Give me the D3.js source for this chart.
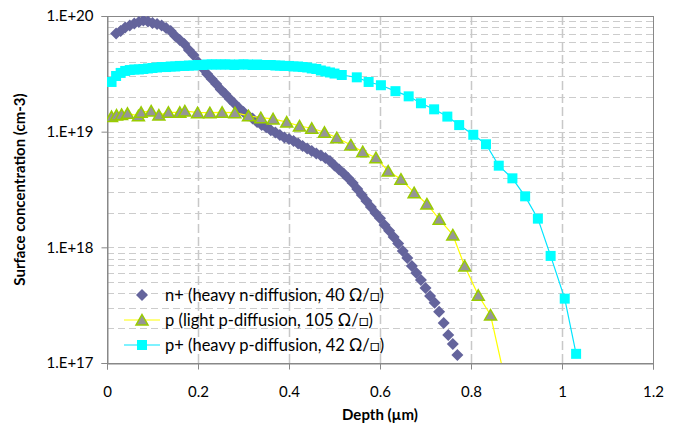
<!DOCTYPE html>
<html lang="en">
<head>
  <meta charset="UTF-8">
  <title>Surface concentration vs depth</title>
  <script src="https://cdn.jsdelivr.net/npm/d3@7"></script>
  <style>
    body { margin: 0; background: #fff; }
    text { font-family: Lato, "DejaVu Sans", sans-serif; fill: #000; }
    .axis-title { font-size: 15px; font-weight: bold; }
    .legend-label { font-size: 16.5px; }
  </style>
</head>
<body>
  <div id="chart"></div>

  <script>
    // n+ (heavy n-diffusion) - dense profile, markers only
    const nDepth = [0.02, 0.03, 0.04, 0.05, 0.06, 0.07, 0.08, 0.09, 0.10, 0.11,
      0.12, 0.13, 0.14, 0.15, 0.16, 0.17, 0.18, 0.19, 0.20, 0.21,
      0.22, 0.23, 0.24, 0.25, 0.26, 0.27, 0.28, 0.29, 0.30, 0.31,
      0.32, 0.33, 0.34, 0.35, 0.36, 0.37, 0.38, 0.39, 0.40, 0.41,
      0.42, 0.43, 0.44, 0.45, 0.46, 0.47, 0.48, 0.49, 0.50, 0.51,
      0.52, 0.53, 0.54, 0.55, 0.56, 0.57, 0.58, 0.59, 0.60, 0.61,
      0.62, 0.63, 0.64, 0.65, 0.66, 0.67, 0.68, 0.69, 0.70, 0.71,
      0.72, 0.73, 0.74, 0.75, 0.76, 0.77];
    const nConc = [7.06e19, 7.42e19, 7.95e19, 8.28e19, 8.61e19, 8.87e19, 9.14e19, 8.96e19, 8.70e19, 8.53e19,
      8.28e19, 7.87e19, 7.42e19, 6.72e19, 6.20e19, 5.73e19, 5.08e19, 4.60e19, 4.00e19, 3.55e19,
      3.15e19, 2.85e19, 2.58e19, 2.31e19, 2.12e19, 1.92e19, 1.75e19, 1.60e19, 1.48e19, 1.38e19,
      1.30e19, 1.21e19, 1.14e19, 1.09e19, 1.03e19, 9.85e18, 9.36e18, 8.91e18, 8.65e18, 8.31e18,
      7.91e18, 7.52e18, 7.16e18, 6.81e18, 6.48e18, 6.22e18, 5.93e18, 5.58e18, 5.10e18, 4.71e18,
      4.35e18, 3.98e18, 3.60e18, 3.20e18, 2.84e18, 2.52e18, 2.23e18, 1.98e18, 1.78e18, 1.56e18,
      1.39e18, 1.23e18, 1.08e18, 9.31e17, 8.10e17, 6.90e17, 6.01e17, 5.23e17, 4.46e17, 3.80e17,
      3.31e17, 2.77e17, 2.22e17, 1.75e17, 1.46e17, 1.17e17];

    // p (light p-diffusion)
    const pDepth = [0.010, 0.021, 0.032, 0.045, 0.069, 0.075, 0.097, 0.114, 0.135, 0.160,
      0.171, 0.199, 0.226, 0.253, 0.281, 0.311, 0.338, 0.365, 0.395, 0.423,
      0.450, 0.478, 0.505, 0.536, 0.562, 0.591, 0.618, 0.646, 0.675, 0.703,
      0.730, 0.760, 0.786, 0.816, 0.843, 0.872];
    const pConc = [1.35e19, 1.39e19, 1.41e19, 1.44e19, 1.37e19, 1.47e19, 1.51e19, 1.39e19, 1.47e19, 1.47e19,
      1.51e19, 1.46e19, 1.46e19, 1.47e19, 1.46e19, 1.37e19, 1.32e19, 1.29e19, 1.21e19, 1.12e19,
      1.07e19, 9.88e18, 8.87e18, 7.67e18, 6.71e18, 5.96e18, 4.57e18, 3.88e18, 2.97e18, 2.37e18,
      1.75e18, 1.28e18, 6.9e17, 3.85e17, 2.6e17, 8e16];

    // p+ (heavy p-diffusion)
    const ppDepth = [0.01, 0.02, 0.03, 0.04, 0.05, 0.06, 0.07, 0.08, 0.09, 0.10,
      0.11, 0.12, 0.13, 0.14, 0.15, 0.16, 0.17, 0.18, 0.19, 0.20,
      0.21, 0.22, 0.23, 0.24, 0.25, 0.26, 0.27, 0.28, 0.29, 0.30,
      0.31, 0.32, 0.33, 0.34, 0.35, 0.36, 0.37, 0.38, 0.39, 0.40,
      0.41, 0.42, 0.43, 0.44, 0.45, 0.46, 0.47, 0.48, 0.49, 0.50,
      0.516, 0.549, 0.575, 0.602, 0.634, 0.663, 0.690, 0.719, 0.748, 0.774,
      0.805, 0.833, 0.861, 0.891, 0.919, 0.947, 0.975, 1.006, 1.031];
    const ppConc = [2.69e19, 3.03e19, 3.22e19, 3.35e19, 3.41e19, 3.45e19, 3.45e19, 3.48e19, 3.52e19, 3.55e19,
      3.59e19, 3.62e19, 3.62e19, 3.66e19, 3.66e19, 3.70e19, 3.70e19, 3.73e19, 3.73e19, 3.77e19,
      3.77e19, 3.81e19, 3.81e19, 3.81e19, 3.81e19, 3.81e19, 3.81e19, 3.77e19, 3.81e19, 3.81e19,
      3.81e19, 3.77e19, 3.81e19, 3.77e19, 3.77e19, 3.77e19, 3.73e19, 3.73e19, 3.70e19, 3.70e19,
      3.66e19, 3.66e19, 3.62e19, 3.59e19, 3.52e19, 3.48e19, 3.38e19, 3.31e19, 3.25e19, 3.18e19,
      3.09e19, 2.95e19, 2.69e19, 2.52e19, 2.24e19, 2.02e19, 1.76e19, 1.56e19, 1.35e19, 1.14e19,
      9.4e18, 7.78e18, 5.08e18, 3.95e18, 2.76e18, 1.77e18, 8.43e17, 3.6e17, 1.2e17];

    const xTicks = [0, 0.2, 0.4, 0.6, 0.8, 1, 1.2];
    const xTickLabels = ['0', '0.2', '0.4', '0.6', '0.8', '1', '1.2'];
    const yTicks = [1e17, 1e18, 1e19, 1e20];
    const yTickLabels = ['1.E+17', '1.E+18', '1.E+19', '1.E+20'];

    const legendLabels = [
      'n+ (heavy n-diffusion, 40 \u03A9/\u25A1)',
      'p (light p-diffusion, 105 \u03A9/\u25A1)',
      'p+ (heavy p-diffusion, 42 \u03A9/\u25A1)'
    ];

    const width = 675, height = 424;
    const margin = { top: 16, right: 22, bottom: 61, left: 107 };
    const innerW = width - margin.left - margin.right;
    const innerH = height - margin.top - margin.bottom;

    const svg = d3.select('#chart')
      .append('svg')
        .attr('width', width)
        .attr('height', height);

    svg.append('rect')
      .attr('width', width)
      .attr('height', height)
      .attr('fill', '#fff');

    const x = d3.scaleLinear().domain([0, 1.2]).range([0, innerW]);
    const y = d3.scaleLog().domain([1e17, 1e20]).range([innerH, 0]);

    const g = svg.append('g')
      .attr('transform', `translate(${margin.left},${margin.top})`);

    // horizontal gridlines (major + minor log ticks)
    g.append('g')
      .selectAll('line')
      .data(y.ticks().filter(v => v > 1e17 && v < 1e20))
      .enter()
      .append('line')
        .attr('x1', 0)
        .attr('x2', innerW)
        .attr('y1', d => Math.round(y(d)) + 0.5)
        .attr('y2', d => Math.round(y(d)) + 0.5)
        .style('stroke', '#cccccc')
        .style('stroke-width', 1)
        .style('stroke-dasharray', '7,4');

    // vertical gridlines
    g.append('g')
      .selectAll('line')
      .data(xTicks.slice(1, -1))
      .enter()
      .append('line')
        .attr('x1', d => Math.round(x(d)) + 0.5)
        .attr('x2', d => Math.round(x(d)) + 0.5)
        .attr('y1', 0)
        .attr('y2', innerH)
        .style('stroke', '#c8c8c8')
        .style('stroke-width', 1.5)
        .style('stroke-dasharray', '9,4');

    // plot frame
    g.append('rect')
      .attr('x', 0.5)
      .attr('y', 0.5)
      .attr('width', innerW)
      .attr('height', innerH)
      .attr('fill', 'none')
      .style('stroke', '#888')
      .style('stroke-width', 1);

    // axes
    const xAxis = d3.axisBottom(x)
      .tickValues(xTicks)
      .tickSize(6)
      .tickPadding(17)
      .tickFormat((d, i) => xTickLabels[i]);
    const xg = g.append('g')
      .attr('transform', `translate(0,${innerH + 0.5})`)
      .call(xAxis);

    const yAxis = d3.axisLeft(y)
      .tickValues(yTicks)
      .tickSize(6)
      .tickPadding(8)
      .tickFormat((d, i) => yTickLabels[i]);
    const yg = g.append('g')
      .attr('transform', 'translate(0.5,0)')
      .call(yAxis);

    [xg, yg].forEach(ax => {
      ax.select('.domain').style('stroke', '#888');
      ax.selectAll('.tick line').style('stroke', '#888');
      ax.selectAll('.tick text')
        .style('font-family', 'Lato, "DejaVu Sans", sans-serif')
        .style('font-size', '15px')
        .style('fill', '#000');
    });

    // axis titles
    svg.append('text')
      .attr('class', 'axis-title')
      .attr('x', margin.left + innerW / 2)
      .attr('y', 420)
      .attr('text-anchor', 'middle')
      .text('Depth (\u00B5m)');

    svg.append('text')
      .attr('class', 'axis-title')
      .attr('transform', `translate(25,${margin.top + innerH / 2}) rotate(-90)`)
      .attr('text-anchor', 'middle')
      .text('Surface concentration (cm-3)');

    // clip region for data
    svg.append('clipPath')
      .attr('id', 'plot-clip')
      .append('rect')
        .attr('width', innerW)
        .attr('height', innerH);

    const data = g.append('g').attr('clip-path', 'url(#plot-clip)');

    const diamond = 'M0,-6L6,0L0,6L-6,0Z';
    const triangle = 'M0,-5.5L6,5L-6,5Z';
    const square = 'M-5,-5H5V5H-5Z';

    const nPts = nDepth.map((d, i) => [d, nConc[i]]);
    const pPts = pDepth.map((d, i) => [d, pConc[i]]);
    const ppPts = ppDepth.map((d, i) => [d, ppConc[i]]);

    const line = d3.line().x(d => x(d[0])).y(d => y(d[1]));

    // n+ markers
    data.append('g')
      .selectAll('path')
      .data(nPts)
      .enter()
      .append('path')
        .attr('d', diamond)
        .attr('transform', d => `translate(${x(d[0])},${y(d[1])})`)
        .style('fill', '#64649c');

    // p line + triangles
    data.append('path')
      .datum(pPts)
      .attr('d', line)
      .style('fill', 'none')
      .style('stroke', '#ffff00')
      .style('stroke-width', 1.2);

    data.append('g')
      .selectAll('path')
      .data(pPts)
      .enter()
      .append('path')
        .attr('d', triangle)
        .attr('transform', d => `translate(${x(d[0])},${y(d[1])})`)
        .style('fill', '#969696')
        .style('stroke', '#99cc00')
        .style('stroke-width', 1.5);

    // p+ line + squares
    data.append('path')
      .datum(ppPts)
      .attr('d', line)
      .style('fill', 'none')
      .style('stroke', '#00e5ff')
      .style('stroke-width', 1.2);

    data.append('g')
      .selectAll('path')
      .data(ppPts)
      .enter()
      .append('path')
        .attr('d', square)
        .attr('transform', d => `translate(${x(d[0])},${y(d[1])})`)
        .style('fill', '#00ffff');

    // legend
    const legendRows = [
      { marker: diamond, fill: '#64649c', stroke: 'none', line: null },
      { marker: triangle, fill: '#969696', stroke: '#99cc00', line: '#ffff00' },
      { marker: square, fill: '#00ffff', stroke: 'none', line: '#00e5ff' }
    ];
    const legendY = [295, 320, 345];

    const legend = svg.append('g');
    legendRows.forEach((r, i) => {
      const row = legend.append('g').attr('transform', `translate(0,${legendY[i]})`);
      if (r.line) {
        row.append('line')
          .attr('x1', 124).attr('x2', 160)
          .attr('y1', 0).attr('y2', 0)
          .style('stroke', r.line)
          .style('stroke-width', 1.2);
      }
      row.append('path')
        .attr('d', r.marker)
        .attr('transform', 'translate(142,0)')
        .style('fill', r.fill)
        .style('stroke', r.stroke)
        .style('stroke-width', 1.5);
      row.append('text')
        .attr('class', 'legend-label')
        .attr('x', 165)
        .attr('y', 0)
        .attr('dy', '0.35em')
        .text(legendLabels[i]);
    });
  </script>
</body>
</html>
